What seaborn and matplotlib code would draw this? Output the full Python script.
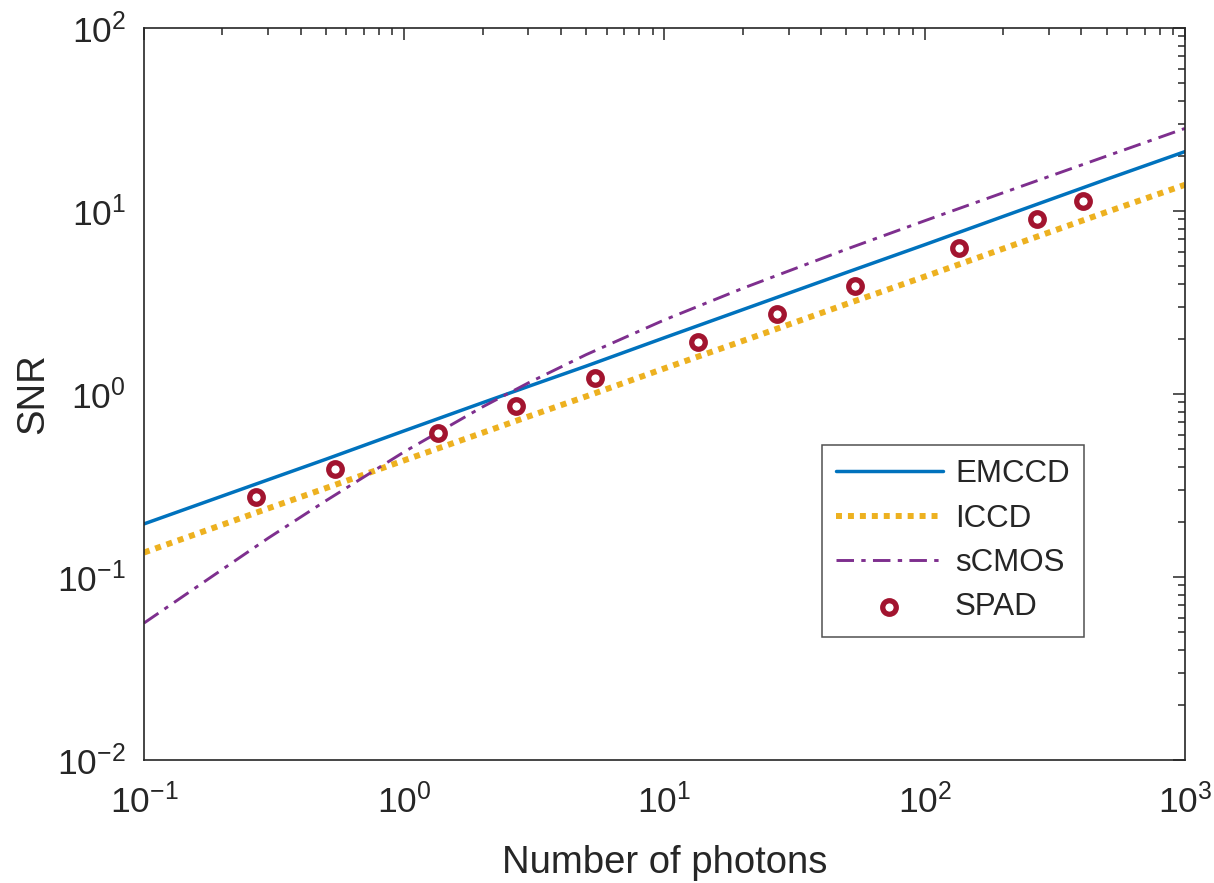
import numpy as np
import pandas as pd
import seaborn as sns
import matplotlib.pyplot as plt

photons = [0.1, 0.2, 0.3, 0.5, 1, 2, 3, 5, 10, 20, 50, 100, 200, 500, 1000]

emccd = [0.195, 0.277, 0.340, 0.440, 0.629, 0.896, 1.10, 1.42, 2.03, 2.89, 4.61, 6.54,
         9.33, 14.9, 21.1]
iccd = [0.136, 0.193, 0.237, 0.306, 0.434, 0.614, 0.753, 0.970, 1.38, 1.95, 3.10, 4.38,
        6.22, 9.87, 13.9]
scmos = [0.056, 0.110, 0.163, 0.261, 0.483, 0.850, 1.15, 1.64, 2.54, 3.78, 6.18, 8.84,
         12.57, 19.95, 28.25]

# SPAD measurements (markers)
spad_photons = [0.27, 0.54, 1.35, 2.7, 5.4, 13.5, 27, 54, 135, 270, 405]
spad_snr = [0.275, 0.388, 0.61, 0.863, 1.22, 1.93, 2.74, 3.89, 6.26, 9.08, 11.3]

sns.set_theme(style="white")
plt.rcParams["font.family"] = ["Liberation Sans", "DejaVu Sans"]
plt.rcParams["mathtext.fontset"] = "custom"
plt.rcParams["mathtext.rm"] = "Liberation Sans"
plt.rcParams["mathtext.it"] = "Liberation Sans"
plt.rcParams["mathtext.default"] = "regular"

fig, ax = plt.subplots(figsize=(12.14, 8.83), dpi=100)
fig.subplots_adjust(left=0.1186, right=0.976, bottom=0.1393, top=0.9683)

curves = pd.DataFrame({"photons": photons, "EMCCD": emccd, "ICCD": iccd, "sCMOS": scmos})

sns.lineplot(data=curves, x="photons", y="EMCCD", ax=ax, color="#0072BD", lw=2.5,
             label="EMCCD")
sns.lineplot(data=curves, x="photons", y="ICCD", ax=ax, color="#EDB120", lw=4.3,
             linestyle=(0, (1, 1)), dash_capstyle="butt", label="ICCD")
sns.lineplot(data=curves, x="photons", y="sCMOS", ax=ax, color="#7E2F8E", lw=2.1,
             linestyle=(0, (6, 2.5, 1.5, 2.5)), label="sCMOS")
sns.scatterplot(x=spad_photons, y=spad_snr, ax=ax, marker="o", s=95, facecolor="white",
                edgecolor="#A2142F", linewidth=3.8, label="SPAD", zorder=5)

ax.set_xscale("log")
ax.set_yscale("log")
ax.set_xlim(0.1, 1000)
ax.set_ylim(0.01, 100)

ax.set_xlabel("Number of photons", fontsize=27.5, color="#262626", labelpad=18)
ax.set_ylabel("SNR", fontsize=27.5, color="#262626", labelpad=4)

ax.tick_params(which="both", direction="in", top=True, right=True, colors="#262626",
               labelsize=25.5, width=1.1)
ax.tick_params(which="minor", length=5)
ax.tick_params(which="major", length=8.5)
ax.tick_params(axis="x", which="major", pad=17)
ax.tick_params(axis="y", which="major", pad=13)
for sp in ax.spines.values():
    sp.set_color("#262626")
    sp.set_linewidth(1.2)

leg = ax.legend(loc="lower left", bbox_to_anchor=(0.651, 0.168), fontsize=22.5,
                frameon=True, fancybox=False, handlelength=3.4, handletextpad=0.4,
                borderpad=0.47, labelspacing=0.46, borderaxespad=0)
leg.get_frame().set_edgecolor("#262626")
leg.get_frame().set_linewidth(1.1)

plt.savefig("out.png", dpi=100)
